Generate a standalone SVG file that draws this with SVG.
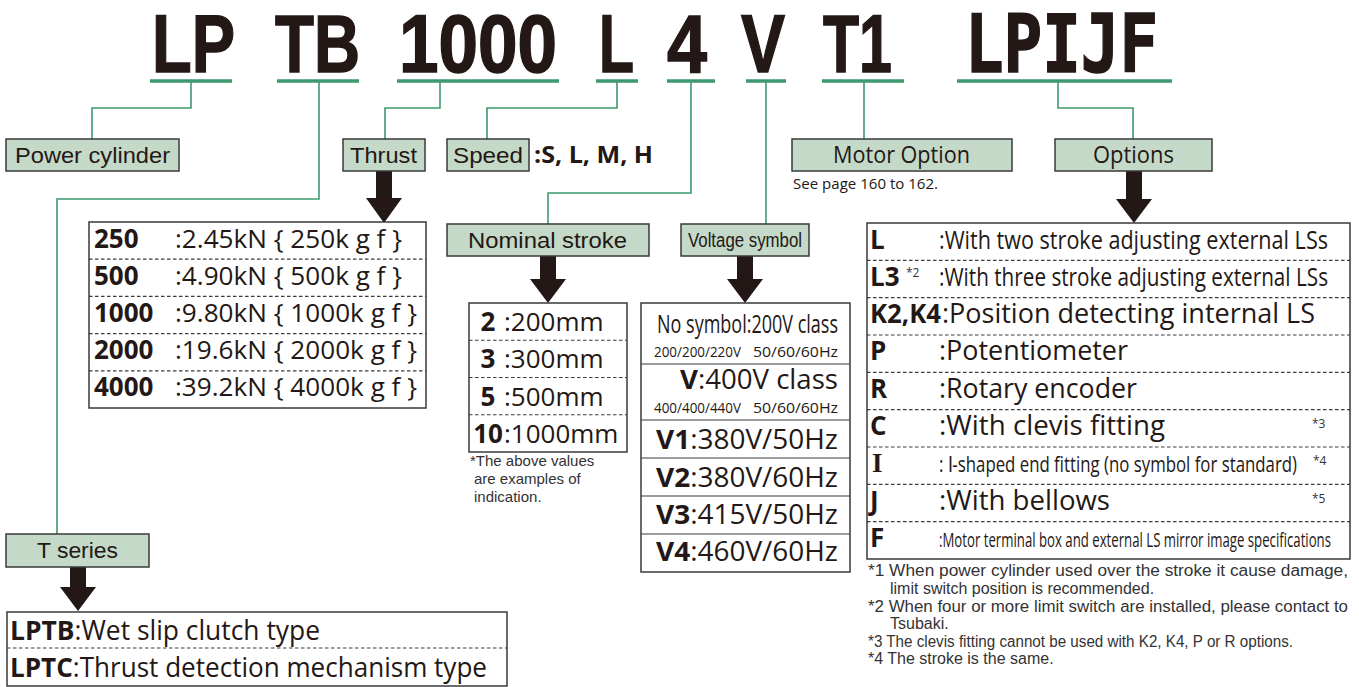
<svg xmlns="http://www.w3.org/2000/svg" width="1359" height="687" viewBox="0 0 1359 687">
<style>
.t{font-family:"Liberation Sans",Arial,sans-serif;font-weight:bold;font-size:82px;fill:#231815;stroke:#231815;stroke-width:1.5}
.tm{font-family:"DejaVu Sans Mono",monospace;font-weight:bold;font-size:80px;fill:#231815;stroke:#231815;stroke-width:1.5}
.ul{stroke:#3c9a6e;stroke-width:3.5}
.g{stroke:#3c9a6e;stroke-width:1.6;fill:none}
.box{fill:#c5d9c9;stroke:#3a3a3a;stroke-width:1.5}
.tbl{fill:#fff;stroke:#3a3a3a;stroke-width:1.5}
.sep{stroke:#3a3a3a;stroke-width:1.2}
.dash{stroke:#3a3a3a;stroke-width:1.2;stroke-dasharray:3.5 2.5}
.lbl{font-family:"Liberation Sans",Arial,sans-serif;font-size:22px;fill:#231815}
.m{font-family:"Open Sans","Noto Sans",sans-serif;font-size:26px;fill:#231815}
.b{font-weight:bold}
.s{font-family:"Liberation Sans",Arial,sans-serif;font-size:16px;fill:#333}
.sup{font-family:"Open Sans","Noto Sans",sans-serif;font-size:12px;fill:#333}
.sm{font-family:"Open Sans","Noto Sans",sans-serif;font-size:14.5px;fill:#231815}
.ar{fill:#231815}
</style>

<g id="title">
<text class="t" x="152" y="72" textLength="83" lengthAdjust="spacingAndGlyphs">LP</text>
<text class="t" x="275" y="72" textLength="85" lengthAdjust="spacingAndGlyphs">TB</text>
<text class="t" x="399" y="72" textLength="158" lengthAdjust="spacingAndGlyphs">1000</text>
<text class="t" x="599" y="72" textLength="35" lengthAdjust="spacingAndGlyphs">L</text>
<text class="t" x="667" y="72" textLength="40" lengthAdjust="spacingAndGlyphs">4</text>
<text class="t" x="741" y="72" textLength="44" lengthAdjust="spacingAndGlyphs">V</text>
<text class="t" x="823" y="72" textLength="69" lengthAdjust="spacingAndGlyphs">T1</text>
<text class="tm" x="965" y="72" textLength="193" lengthAdjust="spacingAndGlyphs">LPIJF</text>
</g>

<g id="underlines">
<line class="ul" x1="150" y1="81" x2="232" y2="81"/>
<line class="ul" x1="277" y1="81" x2="359" y2="81"/>
<line class="ul" x1="397" y1="81" x2="559" y2="81"/>
<line class="ul" x1="596" y1="81" x2="638" y2="81"/>
<line class="ul" x1="667" y1="81" x2="715" y2="81"/>
<line class="ul" x1="746" y1="81" x2="786" y2="81"/>
<line class="ul" x1="822" y1="81" x2="904" y2="81"/>
<line class="ul" x1="957" y1="81" x2="1172" y2="81"/>
</g>

<g id="connectors">
<path class="g" d="M191,82 V108 H92 V139"/>
<path class="g" d="M319,82 V199 H57 V534"/>
<path class="g" d="M440,82 V108 H385 V139"/>
<path class="g" d="M617,82 V108 H487 V139"/>
<path class="g" d="M691,82 V193 H548 V224"/>
<path class="g" d="M766,82 V224"/>
<path class="g" d="M864,82 V139"/>
<path class="g" d="M1058,82 V108 H1133 V139"/>
<polygon class="ar" points="376,171 392,171 392,198 402,198 384,223 366,198 376,198"/>
<polygon class="ar" points="1126,171 1142,171 1142,199 1152,199 1134,223 1116,199 1126,199"/>
<polygon class="ar" points="540,256 556,256 556,279 566,279 548,303 530,279 540,279"/>
<polygon class="ar" points="737,256 753,256 753,279 763,279 745,303 727,279 737,279"/>
<polygon class="ar" points="70,567 86,567 86,587 96,587 78,611 60,587 70,587"/>
</g>

<g id="power-cylinder">
<rect class="box" x="6" y="139" width="173" height="32"/>
<text class="lbl" x="15" y="163" textLength="155" lengthAdjust="spacingAndGlyphs">Power cylinder</text>
</g>

<g id="thrust">
<rect class="box" x="343" y="139" width="82" height="32"/>
<text class="lbl" x="350" y="163" textLength="67" lengthAdjust="spacingAndGlyphs">Thrust</text>
</g>

<g id="speed">
<rect class="box" x="447" y="139" width="82" height="32"/>
<text class="lbl" x="453" y="163" textLength="70" lengthAdjust="spacingAndGlyphs">Speed</text>
<text class="m b" x="534" y="163" style="font-size:23px" textLength="119" lengthAdjust="spacingAndGlyphs">:S, L, M, H</text>
</g>

<g id="motor-option">
<rect class="box" x="792" y="139" width="220" height="32"/>
<text class="m" x="833" y="163" style="font-size:23px" textLength="137" lengthAdjust="spacingAndGlyphs">Motor Option</text>
<text class="m" x="793" y="189" style="font-size:15px" textLength="145" lengthAdjust="spacingAndGlyphs">See page 160 to 162.</text>
</g>

<g id="options">
<rect class="box" x="1055" y="139" width="157" height="32"/>
<text class="m" x="1093" y="163" style="font-size:23px" textLength="81" lengthAdjust="spacingAndGlyphs">Options</text>
</g>

<g id="thrust-table">
<rect class="tbl" x="89" y="222" width="337" height="186"/>
<line class="dash" x1="89" y1="259.2" x2="426" y2="259.2"/>
<line class="dash" x1="89" y1="296.4" x2="426" y2="296.4"/>
<line class="dash" x1="89" y1="333.6" x2="426" y2="333.6"/>
<line class="dash" x1="89" y1="370.8" x2="426" y2="370.8"/>
<text class="m b" x="94" y="248">250</text>
<text class="m" x="175" y="248" textLength="227" lengthAdjust="spacingAndGlyphs">:2.45kN { 250k g f }</text>
<text class="m b" x="94" y="285">500</text>
<text class="m" x="175" y="285" textLength="227" lengthAdjust="spacingAndGlyphs">:4.90kN { 500k g f }</text>
<text class="m b" x="94" y="322">1000</text>
<text class="m" x="175" y="322" textLength="242" lengthAdjust="spacingAndGlyphs">:9.80kN { 1000k g f }</text>
<text class="m b" x="94" y="359">2000</text>
<text class="m" x="175" y="359" textLength="242" lengthAdjust="spacingAndGlyphs">:19.6kN { 2000k g f }</text>
<text class="m b" x="94" y="396">4000</text>
<text class="m" x="175" y="396" textLength="242" lengthAdjust="spacingAndGlyphs">:39.2kN { 4000k g f }</text>
</g>

<g id="nominal-stroke">
<rect class="box" x="447" y="224" width="202" height="32"/>
<text class="lbl" x="468" y="248" textLength="159" lengthAdjust="spacingAndGlyphs">Nominal stroke</text>
</g>

<g id="stroke-table">
<rect class="tbl" x="469" y="303" width="158" height="149"/>
<line class="dash" x1="469" y1="340.25" x2="627" y2="340.25"/>
<line class="dash" x1="469" y1="377.5" x2="627" y2="377.5"/>
<line class="dash" x1="469" y1="414.75" x2="627" y2="414.75"/>
<text class="m b" x="488" y="331" text-anchor="middle">2</text>
<text class="m" x="504" y="331">:200mm</text>
<text class="m b" x="488" y="368" text-anchor="middle">3</text>
<text class="m" x="504" y="368">:300mm</text>
<text class="m b" x="488" y="406" text-anchor="middle">5</text>
<text class="m" x="504" y="406">:500mm</text>
<text class="m b" x="488" y="443" text-anchor="middle">10</text>
<text class="m" x="504" y="443">:1000mm</text>
<text class="s" x="470" y="466" style="font-size:15px">*The above values</text>
<text class="s" x="474" y="484" style="font-size:15px">are examples of</text>
<text class="s" x="474" y="502" style="font-size:15px">indication.</text>
</g>

<g id="voltage-symbol">
<rect class="box" x="681" y="224" width="128" height="32"/>
<text class="lbl" x="688" y="247" style="font-size:20px" textLength="114" lengthAdjust="spacingAndGlyphs">Voltage symbol</text>
</g>

<g id="voltage-table">
<rect class="tbl" x="641" y="303" width="209" height="269"/>
<line class="sep" x1="641" y1="364" x2="850" y2="364"/>
<line class="sep" x1="641" y1="420" x2="850" y2="420"/>
<line class="sep" x1="641" y1="458" x2="850" y2="458"/>
<line class="sep" x1="641" y1="496" x2="850" y2="496"/>
<line class="sep" x1="641" y1="534" x2="850" y2="534"/>
<text class="m" x="657" y="333" style="font-size:25px" textLength="181" lengthAdjust="spacingAndGlyphs">No symbol:200V class</text>
<text class="sm" x="654" y="357" textLength="87" lengthAdjust="spacingAndGlyphs">200/200/220V</text>
<text class="sm" x="753" y="357" textLength="85" lengthAdjust="spacingAndGlyphs">50/60/60Hz</text>
<text class="m" x="680" y="389" style="font-size:27px" textLength="158" lengthAdjust="spacingAndGlyphs"><tspan class="b">V</tspan>:400V class</text>
<text class="sm" x="654" y="413" textLength="87" lengthAdjust="spacingAndGlyphs">400/400/440V</text>
<text class="sm" x="753" y="413" textLength="85" lengthAdjust="spacingAndGlyphs">50/60/60Hz</text>
<text class="m" x="656" y="449" style="font-size:27px" textLength="182" lengthAdjust="spacingAndGlyphs"><tspan class="b">V1</tspan>:380V/50Hz</text>
<text class="m" x="656" y="487" style="font-size:27px" textLength="182" lengthAdjust="spacingAndGlyphs"><tspan class="b">V2</tspan>:380V/60Hz</text>
<text class="m" x="656" y="524" style="font-size:27px" textLength="182" lengthAdjust="spacingAndGlyphs"><tspan class="b">V3</tspan>:415V/50Hz</text>
<text class="m" x="656" y="561" style="font-size:27px" textLength="182" lengthAdjust="spacingAndGlyphs"><tspan class="b">V4</tspan>:460V/60Hz</text>
</g>

<g id="options-table">
<rect class="tbl" x="867" y="223" width="483" height="336"/>
<line class="dash" x1="867" y1="260.3" x2="1350" y2="260.3"/>
<line class="dash" x1="867" y1="297.7" x2="1350" y2="297.7"/>
<line class="dash" x1="867" y1="335" x2="1350" y2="335"/>
<line class="dash" x1="867" y1="372.3" x2="1350" y2="372.3"/>
<line class="dash" x1="867" y1="409.7" x2="1350" y2="409.7"/>
<line class="dash" x1="867" y1="447" x2="1350" y2="447"/>
<line class="dash" x1="867" y1="484.3" x2="1350" y2="484.3"/>
<line class="dash" x1="867" y1="521.7" x2="1350" y2="521.7"/>
<text class="m b" x="870" y="249">L</text>
<text class="m" x="939" y="249" style="font-size:25px" textLength="389" lengthAdjust="spacingAndGlyphs">:With two stroke adjusting external LSs</text>
<text class="m b" x="870" y="286">L3</text>
<text class="sup" x="906" y="277">*2</text>
<text class="m" x="939" y="286" style="font-size:25px" textLength="389" lengthAdjust="spacingAndGlyphs">:With three stroke adjusting external LSs</text>
<text class="m b" x="870" y="323" textLength="71" lengthAdjust="spacingAndGlyphs">K2,K4</text>
<text class="m" x="942" y="323" style="font-size:27px" textLength="373" lengthAdjust="spacingAndGlyphs">:Position detecting internal LS</text>
<text class="m b" x="870" y="360">P</text>
<text class="m" x="939" y="360" style="font-size:27px" textLength="189" lengthAdjust="spacingAndGlyphs">:Potentiometer</text>
<text class="m b" x="870" y="398">R</text>
<text class="m" x="939" y="398" style="font-size:27px" textLength="198" lengthAdjust="spacingAndGlyphs">:Rotary encoder</text>
<text class="m b" x="870" y="435">C</text>
<text class="m" x="939" y="435" style="font-size:27px" textLength="226" lengthAdjust="spacingAndGlyphs">:With clevis fitting</text>
<text class="sup" x="1312" y="428">*3</text>
<text x="872" y="472" font-family="Liberation Serif,serif" font-weight="bold" font-size="27" fill="#231815">I</text>
<text class="m" x="939" y="472" style="font-size:22px" textLength="358" lengthAdjust="spacingAndGlyphs">: Ⅰ-shaped end fitting (no symbol for standard)</text>
<text class="sup" x="1313" y="465">*4</text>
<text class="m b" x="870" y="510">J</text>
<text class="m" x="939" y="510" style="font-size:27px" textLength="171" lengthAdjust="spacingAndGlyphs">:With bellows</text>
<text class="sup" x="1312" y="503">*5</text>
<text class="m b" x="870" y="547">F</text>
<text class="m" x="939" y="547" style="font-size:20px" textLength="392" lengthAdjust="spacingAndGlyphs">:Motor terminal box and external LS mirror image specifications</text>
</g>

<g id="footnotes">
<text class="s" x="868" y="576" textLength="480" lengthAdjust="spacingAndGlyphs">*1 When power cylinder used over the stroke it cause damage,</text>
<text class="s" x="890" y="594">limit switch position is recommended.</text>
<text class="s" x="868" y="612" textLength="480" lengthAdjust="spacingAndGlyphs">*2 When four or more limit switch are installed, please contact to</text>
<text class="s" x="890" y="629">Tsubaki.</text>
<text class="s" x="868" y="647" textLength="425" lengthAdjust="spacingAndGlyphs">*3 The clevis fitting cannot be used with K2, K4, P or R options.</text>
<text class="s" x="868" y="664">*4 The stroke is the same.</text>
</g>

<g id="t-series">
<rect class="box" x="6" y="534" width="143" height="33"/>
<text class="lbl" x="37" y="558" textLength="81" lengthAdjust="spacingAndGlyphs">T series</text>
</g>

<g id="t-series-table">
<rect class="tbl" x="7" y="612" width="500" height="74"/>
<line class="dash" x1="7" y1="648" x2="507" y2="648"/>
<text class="m" x="10" y="640" style="font-size:27px" textLength="310" lengthAdjust="spacingAndGlyphs"><tspan class="b">LPTB</tspan>:Wet slip clutch type</text>
<text class="m" x="10" y="677" style="font-size:27px" textLength="477" lengthAdjust="spacingAndGlyphs"><tspan class="b">LPTC</tspan>:Thrust detection mechanism type</text>
</g>
</svg>
